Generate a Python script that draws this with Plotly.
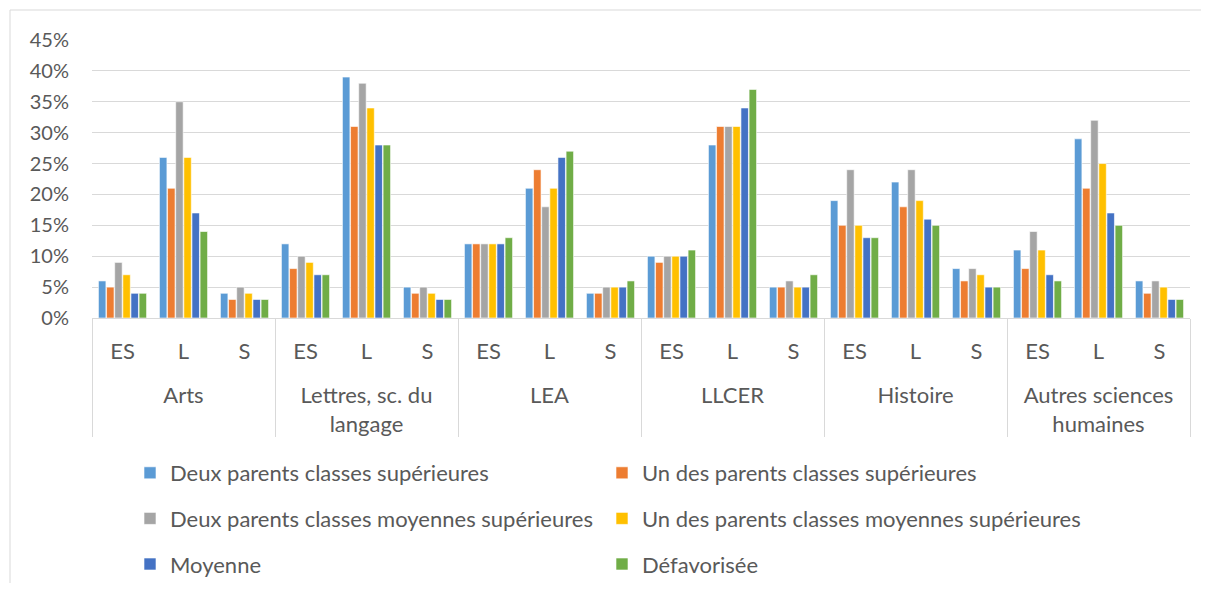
import plotly.graph_objects as go

groups = ["Arts", "Lettres, sc. du<br>langage", "LEA", "LLCER", "Histoire", "Autres sciences<br>humaines"]
subs = ["ES<br> ", "L<br> ", "S<br> "]

series_names = [
    "Deux parents classes supérieures",
    "Un des parents classes supérieures",
    "Deux parents classes moyennes supérieures",
    "Un des parents classes moyennes supérieures",
    "Moyenne",
    "Défavorisée",
]
colors = ["#5B9BD5", "#ED7D31", "#A5A5A5", "#FFC000", "#4472C4", "#70AD47"]

# values in %, order: Arts ES,L,S | Lettres ES,L,S | LEA | LLCER | Histoire | Autres
deux_sup = [6, 26, 4, 12, 39, 5, 12, 21, 4, 10, 28, 5, 19, 22, 8, 11, 29, 6]
un_sup = [5, 21, 3, 8, 31, 4, 12, 24, 4, 9, 31, 5, 15, 18, 6, 8, 21, 4]
deux_moy = [9, 35, 5, 10, 38, 5, 12, 18, 5, 10, 31, 6, 24, 24, 8, 14, 32, 6]
un_moy = [7, 26, 4, 9, 34, 4, 12, 21, 5, 10, 31, 5, 15, 19, 7, 11, 25, 5]
moyenne = [4, 17, 3, 7, 28, 3, 12, 26, 5, 10, 34, 5, 13, 16, 5, 7, 17, 3]
defavorisee = [4, 14, 3, 7, 28, 3, 13, 27, 6, 11, 37, 7, 13, 15, 5, 6, 15, 3]

values = [deux_sup, un_sup, deux_moy, un_moy, moyenne, defavorisee]

outer = [g for g in groups for _ in subs]
inner = [s for _ in groups for s in subs]

FONT = "Lato"
TXT = "#595959"

fig = go.Figure()
for i, (name, vals, col) in enumerate(zip(series_names, values, colors)):
    fig.add_trace(go.Bar(
        x=[outer, inner],
        y=[v / 100 for v in vals],
        name=name,
        marker=dict(color=col, line=dict(color="white", width=0.6)),
        legend="legend" if i % 2 == 0 else "legend2",
        legendgroup=str(i),
        hovertemplate="%{y:.0%}<extra>" + name + "</extra>",
    ))

# page body has an 8px margin; work in window pixel coordinates
OFF = 8
W, H = 1209 - 2 * OFF, 591 - 2 * OFF
plot_l, plot_r, plot_t, plot_b = 92, 1190, 40, 318
ml = plot_l - OFF
mt = plot_t - OFF
mr = W - (plot_r - OFF)
mb = H - (plot_b - OFF)
pw = plot_r - plot_l
ph = plot_b - plot_t

def px_x(p):
    return (p - plot_l) / pw

def px_y(p):
    return (plot_b - p) / ph

legend_common = dict(
    orientation="v",
    yanchor="top",
    xanchor="left",
    traceorder="grouped",
    tracegroupgap=14,
    font=dict(family=FONT, size=22, color=TXT),
    bgcolor="rgba(0,0,0,0)",
    itemwidth=30,
)

frame = dict(color="#D9D9D9", width=1)

fig.update_layout(
    width=W,
    height=H,
    margin=dict(l=ml, r=mr, t=mt, b=mb, autoexpand=False),
    paper_bgcolor="white",
    plot_bgcolor="white",
    barmode="group",
    bargap=0.2,
    bargroupgap=0.08,
    font=dict(family=FONT, size=22, color=TXT),
    legend=dict(x=px_x(130), y=px_y(452), **legend_common),
    legend2=dict(x=px_x(602), y=px_y(452), **legend_common),
    yaxis=dict(
        range=[0, 0.45],
        dtick=0.05,
        tickformat=".0%",
        showgrid=True,
        gridcolor="#D9D9D9",
        gridwidth=1.3,
        zeroline=False,
        showline=False,
        ticks="",
        automargin=False,
        ticklabelstandoff=22,
        tickfont=dict(family=FONT, size=20, color=TXT),
    ),
    xaxis=dict(
        type="multicategory",
        automargin=False,
        showline=True,
        linecolor="#D9D9D9",
        linewidth=1.3,
        showgrid=False,
        showdividers=True,
        dividercolor="#D9D9D9",
        dividerwidth=1.3,
        ticks="",
        ticklabelstandoff=13,
        tickfont=dict(family=FONT, size=22, color=TXT),
    ),
    shapes=[
        dict(type="line", xref="paper", yref="paper",
             x0=px_x(10), x1=px_x(1230), y0=px_y(10), y1=px_y(10), line=frame, layer="below"),
        dict(type="line", xref="paper", yref="paper",
             x0=px_x(10), x1=px_x(10), y0=px_y(10), y1=px_y(620), line=frame, layer="below"),
    ],
)

fig.write_html("out.html")
